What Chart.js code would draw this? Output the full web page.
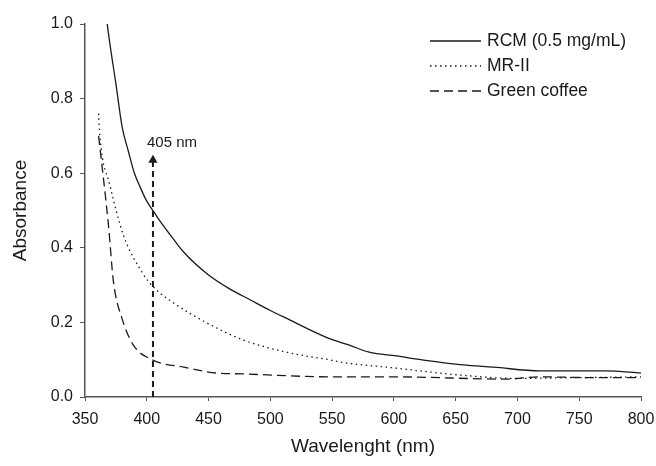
<!DOCTYPE html>
<html>
<head>
<meta charset="utf-8">
<script src="https://cdn.jsdelivr.net/npm/chart.js@4/dist/chart.umd.min.js"></script>
<style>
  html, body { margin: 0; padding: 0; background: #fff; }
  #wrap { width: 656px; height: 466px; }
</style>
</head>
<body>
<div id="wrap"><canvas id="chart" width="656" height="466"></canvas></div>
<script>
const rcmWavelength = [368, 370, 375, 380, 385, 390, 395, 400, 405, 410, 421, 430, 450, 467, 484, 500, 516, 532, 549, 564, 580, 602, 624, 656, 681, 718, 772, 800];
const rcmAbsorbance = [1.0, 0.95, 0.84, 0.725, 0.66, 0.6, 0.56, 0.525, 0.5, 0.475, 0.426, 0.388, 0.327, 0.29, 0.26, 0.232, 0.206, 0.18, 0.155, 0.139, 0.12, 0.11, 0.099, 0.086, 0.08, 0.07, 0.07, 0.064];

const mrWavelength = [361, 362, 370, 381, 397, 405, 424, 449, 478, 516, 549, 556, 600, 653, 697, 750, 800];
const mrAbsorbance = [0.76, 0.7, 0.57, 0.435, 0.33, 0.296, 0.247, 0.198, 0.153, 0.118, 0.099, 0.094, 0.078, 0.059, 0.05, 0.052, 0.054];

const coffeeWavelength = [361, 369, 373, 380, 389, 405, 430, 457, 476, 549, 600, 691, 718, 760, 800];
const coffeeAbsorbance = [0.7, 0.46, 0.31, 0.21, 0.14, 0.099, 0.08, 0.064, 0.062, 0.054, 0.054, 0.048, 0.054, 0.052, 0.052];

const markerWavelength = 405;
const markerTop = 0.635;
const markerLabel = "405 nm";

const seriesLabels = ["RCM (0.5 mg/mL)", "MR-II", "Green coffee"];
const xTicks = [350, 400, 450, 500, 550, 600, 650, 700, 750, 800];
const yTicks = [0.0, 0.2, 0.4, 0.6, 0.8, 1.0];

const toPoints = (xs, ys) => xs.map((x, i) => ({ x: x, y: ys[i] }));

const FONT = "'Liberation Sans', Arial, sans-serif";
const INK = "#1a1a1a";
const AXIS = "#555";

const legendLines = {
  id: "legendLines",
  afterDraw(chart) {
    const ctx = chart.ctx;
    ctx.save();
    chart.data.datasets.slice(0, 3).forEach((ds, i) => {
      const y = 41 + i * 25;
      ctx.strokeStyle = ds.borderColor;
      ctx.lineWidth = ds.borderWidth;
      ctx.setLineDash(ds.borderDash || []);
      ctx.beginPath();
      ctx.moveTo(430, y);
      ctx.lineTo(481, y);
      ctx.stroke();
      ctx.setLineDash([]);
      ctx.fillStyle = INK;
      ctx.font = "17.5px " + FONT;
      ctx.textBaseline = "middle";
      ctx.textAlign = "left";
      ctx.fillText(ds.label, 487, y);
    });
    // marker label
    const xs = chart.scales.x, ys = chart.scales.y;
    ctx.font = "15px " + FONT;
    ctx.fillStyle = INK;
    ctx.textBaseline = "middle";
    ctx.fillText(markerLabel, xs.getPixelForValue(markerWavelength) - 6, ys.getPixelForValue(0.681));
    ctx.restore();
  }
};

new Chart(document.getElementById("chart"), {
  type: "scatter",
  data: {
    datasets: [
      {
        label: seriesLabels[0],
        data: toPoints(rcmWavelength, rcmAbsorbance),
        showLine: true,
        borderColor: INK,
        borderWidth: 1.3,
        borderDash: [],
        pointRadius: 0,
        cubicInterpolationMode: "monotone",
      },
      {
        label: seriesLabels[1],
        data: toPoints(mrWavelength, mrAbsorbance),
        showLine: true,
        borderColor: INK,
        borderWidth: 1.3,
        borderDash: [1.5, 3.5],
        pointRadius: 0,
        cubicInterpolationMode: "monotone",
      },
      {
        label: seriesLabels[2],
        data: toPoints(coffeeWavelength, coffeeAbsorbance),
        showLine: true,
        borderColor: INK,
        borderWidth: 1.3,
        borderDash: [9, 5],
        pointRadius: 0,
        cubicInterpolationMode: "monotone",
      },
      {
        label: "marker",
        data: [{ x: markerWavelength, y: 0 }, { x: markerWavelength, y: markerTop }],
        showLine: true,
        borderColor: INK,
        borderWidth: 2,
        borderDash: [6, 4],
        pointStyle: "triangle",
        pointRadius: [0, 5.3],
        pointBackgroundColor: INK,
        pointBorderWidth: 0,
      },
    ],
  },
  options: {
    responsive: false,
    animation: false,
    layout: { padding: { top: 24, right: 15, left: 0, bottom: 0 } },
    plugins: {
      legend: { display: false },
      tooltip: { enabled: false },
    },
    scales: {
      x: {
        type: "linear",
        min: 350,
        max: 800,
        afterBuildTicks: (scale) => { scale.ticks = xTicks.map((v) => ({ value: v })); },
        afterFit: (scale) => { scale.height = 69; scale.paddingLeft = 0; scale.paddingRight = 0; },
        ticks: { color: INK, font: { family: FONT, size: 16 }, padding: 9 },
        grid: { drawOnChartArea: false, drawTicks: true, tickLength: 4, color: AXIS },
        border: { color: AXIS, width: 1.5 },
        title: { display: true, text: "Wavelenght (nm)", color: INK, font: { family: FONT, size: 19 }, padding: { top: 4, bottom: 8 } },
      },
      y: {
        min: 0,
        max: 1,
        afterBuildTicks: (scale) => { scale.ticks = yTicks.map((v) => ({ value: v })); },
        afterFit: (scale) => { scale.width = 85; scale.paddingTop = 0; scale.paddingBottom = 0; },
        ticks: { color: INK, font: { family: FONT, size: 16 }, padding: 7, callback: (v) => Number(v).toFixed(1) },
        grid: { drawOnChartArea: false, drawTicks: true, tickLength: 5, color: AXIS },
        border: { color: AXIS, width: 1.5 },
        title: { display: true, text: "Absorbance", color: INK, font: { family: FONT, size: 19 }, padding: { top: 9, bottom: 0 } },
      },
    },
  },
  plugins: [legendLines],
});
</script>
</body>
</html>
